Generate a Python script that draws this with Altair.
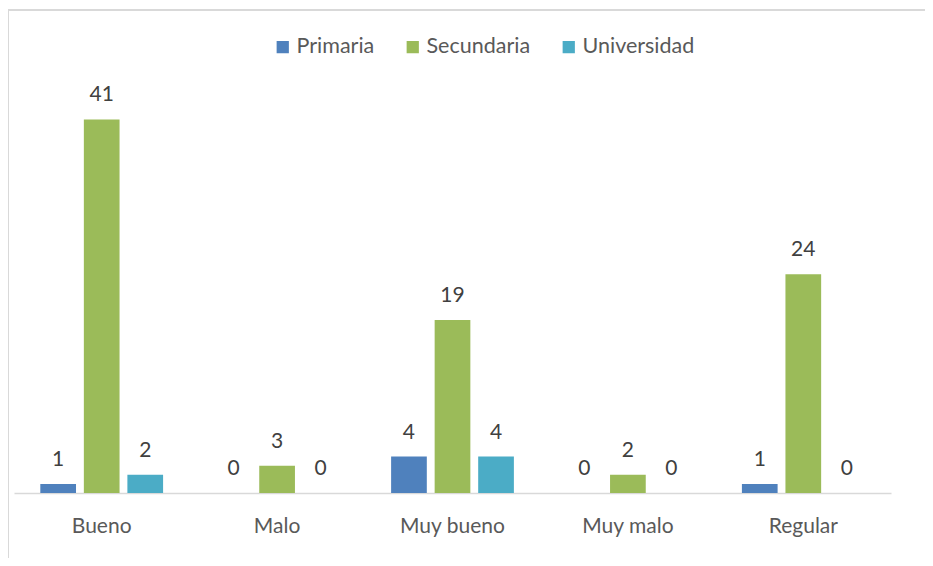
import altair as alt
import pandas as pd

categories = ["Bueno", "Malo", "Muy bueno", "Muy malo", "Regular"]
series = ["Primaria", "Secundaria", "Universidad"]
primaria = [1, 0, 4, 0, 1]
secundaria = [41, 3, 19, 2, 24]
universidad = [2, 0, 4, 0, 0]
colors = ["#4F81BD", "#9BBB59", "#4BACC6"]

rows = []
for s, vals in zip(series, [primaria, secundaria, universidad]):
    for c, v in zip(categories, vals):
        rows.append({"cat": c, "serie": s, "valor": v})
df = pd.DataFrame(rows)

FONT = "Lato"
W, H = 877, 410

x = alt.X("cat:N", sort=categories, title=None,
          scale=alt.Scale(paddingInner=0.30, paddingOuter=0.15),
          axis=alt.Axis(labelAngle=0, ticks=False, domainColor="#d9d9d9", domainWidth=1.5,
                        labelPadding=22, labelFontSize=21, labelColor="#595959", labelFont=FONT))
xo = alt.XOffset("serie:N", sort=series, scale=alt.Scale(paddingInner=0.18, paddingOuter=0))
y = alt.Y("valor:Q", scale=alt.Scale(domain=[0, 45]), axis=None)

bars = alt.Chart(df).mark_bar().encode(
    x=x, xOffset=xo, y=y,
    color=alt.Color("serie:N", sort=series, scale=alt.Scale(domain=series, range=colors),
                    legend=alt.Legend(title=None, orient="none", direction="horizontal",
                                      legendX=258, legendY=-47, symbolType="square", symbolSize=150,
                                      symbolStrokeWidth=0, labelFontSize=21.5, labelColor="#595959",
                                      labelFont=FONT, columnPadding=27, labelOffset=3)),
)
labels = alt.Chart(df).mark_text(baseline="middle", dy=-24, fontSize=21, color="#404040", font=FONT).encode(
    x=x, xOffset=xo, y=y, text="valor:Q"
)
border_top = alt.Chart(df).mark_rule(color="#d9d9d9", strokeWidth=1.5).encode(
    x=alt.value(-6), x2=alt.value(W + 40), y=alt.value(-73)
)
border_left = alt.Chart(df).mark_rule(color="#d9d9d9", strokeWidth=1.5).encode(
    x=alt.value(-6), y=alt.value(-73), y2=alt.value(H + 90)
)

chart = alt.layer(border_top, border_left, bars, labels).properties(
    width=W, height=H, padding={"left": 6, "top": 75, "right": 34, "bottom": 65},
    autosize=alt.AutoSizeParams(type="none"), background="white"
).configure_view(stroke=None)

chart.save("out.html", embed_options={"renderer": "svg", "actions": False})
